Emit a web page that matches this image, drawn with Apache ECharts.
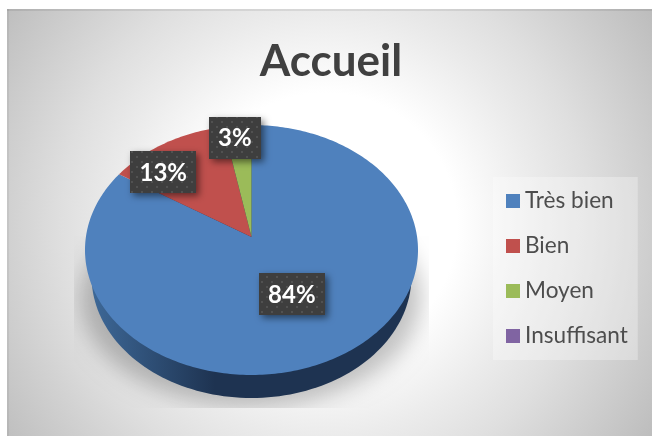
<!DOCTYPE html>
<html><head><meta charset="utf-8">
<style>html,body{margin:0;padding:0;background:#fff}#c{width:652px;height:436px}</style>
<script src="https://cdn.jsdelivr.net/npm/echarts@6/dist/echarts.min.js"></script>
</head><body><div id="c"></div>
<script>
const titleText = 'Accueil';
const categories = ['Très bien', 'Bien', 'Moyen', 'Insuffisant'];
const percentages = [84, 13, 3, 0];
const colors = ['#4f81bd', '#c0504d', '#9bbb59', '#8064a2'];
const labelReach = [[0.46, 0.48], [1.03, 0.69], [1.18, 0.89]];

// projective view of the tilted disc
const P = { cx: 251.5, apexY: 237, bx: 165.6, a: 123.6, k: 0.104 };
function project(share, reachX, reachY) {
  const t = share * 2 * Math.PI, u = Math.sin(t), v = Math.cos(t), d = 1 + P.k * v;
  return [P.cx + (reachX === undefined ? 1 : reachX) * P.bx * u / d,
          P.apexY - (reachY === undefined ? 1 : reachY) * P.a * v / d];
}
const total = percentages.reduce((s, x) => s + x, 0);
const starts = percentages.map((_, i) => percentages.slice(0, i).reduce((s, x) => s + x, 0) / total);

function sliceItem(i) {
  return function () {
    const share = percentages[i] / total;
    if (!share) return { type: 'group', children: [] };
    const pts = [[P.cx, P.apexY]], n = Math.max(4, Math.ceil(share * 360));
    for (let j = 0; j <= n; j++) pts.push(project(starts[i] + share * j / n));
    return { type: 'polygon', shape: { points: pts }, style: { fill: colors[i] } };
  };
}
function ellipsePts(cx, cy, rx, ry) {
  const pts = [];
  for (let j = 0; j < 360; j += 2) {
    const t = j * Math.PI / 180;
    pts.push([cx + rx * Math.cos(t), cy + ry * Math.sin(t)]);
  }
  return pts;
}
const dots = document.createElement('canvas');
dots.width = dots.height = 10;
(function () {
  const g = dots.getContext('2d');
  g.fillStyle = '#3e3e3e'; g.fillRect(0, 0, 10, 10);
  g.fillStyle = '#515151'; g.fillRect(1, 1, 2, 2); g.fillRect(6, 6, 2, 2);
})();
const measure = document.createElement('canvas').getContext('2d');
const labelFont = 'bold 24px Lato';
measure.font = labelFont;

const sliceSeries = categories.map((name, i) => ({
  name, type: 'custom', coordinateSystem: 'none', z: 4, silent: true,
  itemStyle: { color: colors[i] }, data: [percentages[i]], renderItem: sliceItem(i), animation: false
}));

const option = {
  animation: false,
  graphic: [
    { type: 'rect', z: -5, silent: true, shape: { x: 7, y: 9, width: 645, height: 427 },
      style: { fill: new echarts.graphic.RadialGradient(325, 225, 400, [
        { offset: 0, color: '#ffffff' }, { offset: 0.33, color: '#ffffff' },
        { offset: 0.53, color: '#ebebeb' }, { offset: 0.66, color: '#dfdfdf' },
        { offset: 1, color: '#bababa' }], true) } },
    { type: 'rect', z: -4, silent: true, shape: { x: 7, y: 9, width: 645, height: 2 }, style: { fill: 'rgba(0,0,0,0.08)' } },
    { type: 'rect', z: -4, silent: true, shape: { x: 7, y: 9, width: 2, height: 427 }, style: { fill: 'rgba(0,0,0,0.05)' } }
  ],
  title: { text: titleText, left: 326, top: 35, textAlign: 'center',
    textStyle: { fontFamily: 'Lato', fontWeight: 'bold', fontSize: 44, color: '#404040' } },
  legend: {
    data: categories, orient: 'vertical', left: 493, top: 177, icon: 'rect', itemWidth: 14, itemHeight: 14,
    itemGap: 22, padding: [12.5, 10, 12.5, 13], backgroundColor: 'rgba(255,255,255,0.3)', selectedMode: false,
    textStyle: { fontFamily: 'Lato', fontSize: 22.6, lineHeight: 21, color: '#4d4d4d' }
  },
  series: [
    { name: 'Base', type: 'custom', coordinateSystem: 'none', z: 2, silent: true, data: [0], animation: false,
      renderItem: function () {
        return { type: 'group', children: [
          { type: 'group', clipPath: { type: 'rect', shape: { x: 74, y: 236, width: 355, height: 172 } }, children: [
            { type: 'polygon', shape: { points: ellipsePts(251 - 1500, 298, 170, 108) },
              style: { fill: '#000', shadowBlur: 22, shadowOffsetX: 1500, shadowColor: 'rgba(0,0,0,0.24)' } } ] },
          { type: 'polygon', shape: { points: ellipsePts(251.5, 276, 160, 122) },
            style: { fill: new echarts.graphic.LinearGradient(85, 0, 215, 0, [
              { offset: 0, color: '#3f6b9b' }, { offset: 1, color: '#1e3351' }], true) } }
        ] };
      } },
    ...sliceSeries,
    { name: 'Étiquettes', type: 'custom', coordinateSystem: 'none', z: 8, silent: true, data: percentages, animation: false,
      renderItem: function (params) {
        const i = params.dataIndex;
        if (!percentages[i]) return { type: 'group', children: [] };
        const text = percentages[i] + '%';
        const mid = starts[i] + percentages[i] / total / 2;
        const c = project(mid, labelReach[i][0], labelReach[i][1]);
        const w = Math.round(measure.measureText(text).width) + 18, h = 42;
        return { type: 'group', children: [
          { type: 'rect', shape: { x: Math.round(c[0] - w / 2), y: Math.round(c[1] - h / 2), width: w, height: h },
            style: { fill: { image: dots, repeat: 'repeat' }, shadowBlur: 7, shadowOffsetX: 3, shadowOffsetY: 3, shadowColor: 'rgba(0,0,0,0.5)' } },
          { type: 'text', z2: 2, style: { text, x: c[0], y: c[1] + 1, align: 'center', verticalAlign: 'middle', font: labelFont, fill: '#ffffff' } }
        ] };
      } }
  ]
};
echarts.init(document.getElementById('c'), null, { renderer: 'canvas' }).setOption(option);
</script></body></html>
